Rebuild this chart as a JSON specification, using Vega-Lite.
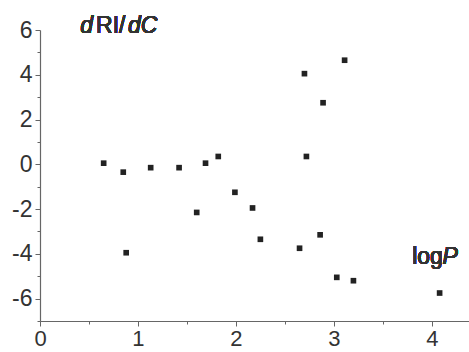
{
  "$schema": "https://vega.github.io/schema/vega-lite/v6.json",
  "autosize": {"type": "none"},
  "padding": {"left": 40, "top": 30, "right": 0, "bottom": 31},
  "width": 429,
  "height": 291,
  "background": "white",
  "config": {
    "view": {"stroke": null},
    "font": "Liberation Sans",
    "axis": {"grid": false, "labelFont": "Liberation Sans", "labelFontSize": 23, "labelColor": "#333333", "domainColor": "#666666", "tickColor": "#666666", "domainWidth": 1.2, "tickWidth": 1}
  },
  "resolve": {"axis": {"x": "independent", "y": "independent"}},
  "data": {
    "values": [
      {"logP": 0.65, "dRI": 0.05},
      {"logP": 0.85, "dRI": -0.35},
      {"logP": 0.88, "dRI": -3.95},
      {"logP": 1.13, "dRI": -0.15},
      {"logP": 1.42, "dRI": -0.15},
      {"logP": 1.60, "dRI": -2.15},
      {"logP": 1.69, "dRI": 0.05},
      {"logP": 1.82, "dRI": 0.35},
      {"logP": 1.99, "dRI": -1.25},
      {"logP": 2.17, "dRI": -1.95},
      {"logP": 2.25, "dRI": -3.35},
      {"logP": 2.65, "dRI": -3.75},
      {"logP": 2.70, "dRI": 4.05},
      {"logP": 2.72, "dRI": 0.35},
      {"logP": 2.86, "dRI": -3.15},
      {"logP": 2.89, "dRI": 2.75},
      {"logP": 3.03, "dRI": -5.05},
      {"logP": 3.11, "dRI": 4.65},
      {"logP": 3.20, "dRI": -5.2},
      {"logP": 4.08, "dRI": -5.75}
    ]
  },
  "layer": [
    {
      "mark": {"type": "point", "shape": "square", "filled": true, "size": 32, "color": "#222222", "opacity": 1},
      "encoding": {
        "x": {
          "field": "logP", "type": "quantitative",
          "scale": {"domain": [0, 4.38], "nice": false, "zero": false},
          "axis": {
            "title": null,
            "values": [0, 0.5, 1, 1.5, 2, 2.5, 3, 3.5, 4],
            "labelExpr": "datum.value % 1 === 0 ? '' + datum.value : ''",
            "tickSize": {"condition": {"test": "datum.value % 1 !== 0", "value": 3}, "value": 5},
            "labelFontSize": 22,
            "labelPadding": 2,
            "labelFlush": false,
            "labelOverlap": false
          }
        },
        "y": {
          "field": "dRI", "type": "quantitative",
          "scale": {"domain": [-7, 6], "nice": false, "zero": false},
          "axis": {
            "title": null,
            "values": [-7, -6, -5, -4, -3, -2, -1, 0, 1, 2, 3, 4, 5, 6],
            "labelExpr": "abs(datum.value) % 2 === 0 ? '' + datum.value : ''",
            "tickSize": {"condition": {"test": "abs(datum.value) % 2 === 1", "value": 3}, "value": 5},
            "labelPadding": 3,
            "labelFlush": false,
            "labelOverlap": false
          }
        }
      }
    },
    {
      "mark": {"type": "text", "text": "d", "fontStyle": "italic", "fontSize": 23, "align": "left", "baseline": "alphabetic", "color": "#333333"},
      "encoding": {"x": {"datum": 0.41, "axis": null}, "y": {"datum": 5.85, "axis": null}}
    },
    {
      "mark": {"type": "text", "text": "RI/", "fontSize": 23, "align": "left", "baseline": "alphabetic", "color": "#333333"},
      "encoding": {"x": {"datum": 0.572, "axis": null}, "y": {"datum": 5.85, "axis": null}}
    },
    {
      "mark": {"type": "text", "text": "dC", "fontStyle": "italic", "fontSize": 23, "align": "left", "baseline": "alphabetic", "color": "#333333"},
      "encoding": {"x": {"datum": 0.899, "axis": null}, "y": {"datum": 5.85, "axis": null}}
    },
    {
      "mark": {"type": "text", "text": "log", "fontSize": 23, "align": "left", "baseline": "alphabetic", "color": "#333333"},
      "encoding": {"x": {"datum": 3.80, "axis": null}, "y": {"datum": -4.47, "axis": null}}
    },
    {
      "mark": {"type": "text", "text": "P", "fontStyle": "italic", "fontSize": 23, "align": "left", "baseline": "alphabetic", "color": "#333333"},
      "encoding": {"x": {"datum": 4.11, "axis": null}, "y": {"datum": -4.47, "axis": null}}
    }
  ]
}
